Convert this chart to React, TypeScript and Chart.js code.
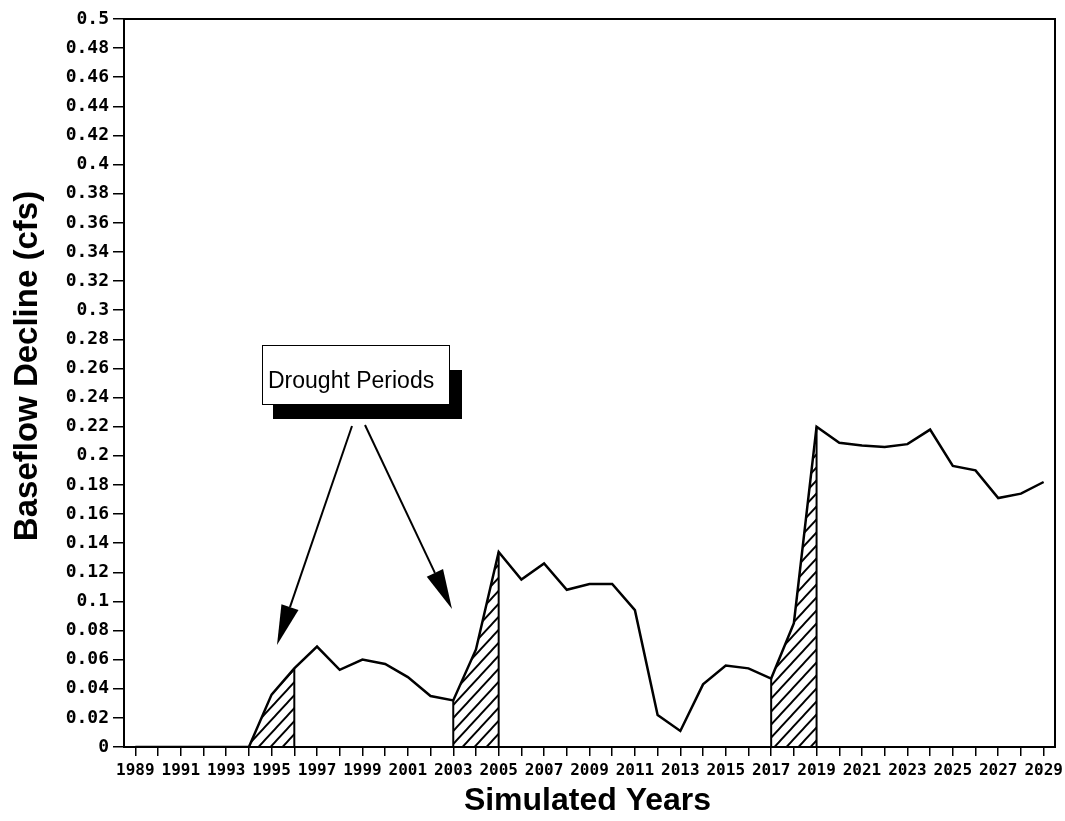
import { useEffect, useRef } from "react";
import { Chart, registerables } from "chart.js";

Chart.register(...registerables);

const years = [
  "1989", "1990", "1991", "1992", "1993", "1994", "1995", "1996", "1997", "1998",
  "1999", "2000", "2001", "2002", "2003", "2004", "2005", "2006", "2007", "2008",
  "2009", "2010", "2011", "2012", "2013", "2014", "2015", "2016", "2017", "2018",
  "2019", "2020", "2021", "2022", "2023", "2024", "2025", "2026", "2027", "2028",
  "2029",
];

const baseflowDecline = [
  0, 0, 0, 0, 0, 0, 0.036, 0.054, 0.069, 0.053,
  0.06, 0.057, 0.048, 0.035, 0.032, 0.067, 0.134, 0.115, 0.126, 0.108,
  0.112, 0.112, 0.094, 0.022, 0.011, 0.043, 0.056, 0.054, 0.047, 0.085,
  0.22, 0.209, 0.207, 0.206, 0.208, 0.218, 0.193, 0.19, 0.171, 0.174,
  0.182,
];

const droughtStarts = ["1994", "2003", "2017"];
const droughtEnds = ["1996", "2005", "2019"];

const yTickLabels = [
  "0", "0.02", "0.04", "0.06", "0.08", "0.1", "0.12", "0.14", "0.16", "0.18",
  "0.2", "0.22", "0.24", "0.26", "0.28", "0.3", "0.32", "0.34", "0.36", "0.38",
  "0.4", "0.42", "0.44", "0.46", "0.48", "0.5",
];

const xAxisTitle = "Simulated Years";
const yAxisTitle = "Baseflow Decline (cfs)";
const annotationText = "Drought Periods";

function makeHatch(): CanvasPattern | string {
  const w = 12;
  const h = 13;
  const c = document.createElement("canvas");
  c.width = w;
  c.height = h;
  const g = c.getContext("2d");
  if (!g) return "rgba(0,0,0,0.2)";
  g.fillStyle = "#ffffff";
  g.fillRect(0, 0, w, h);
  g.strokeStyle = "#000000";
  g.lineWidth = 1.9;
  g.beginPath();
  g.moveTo(-w, 2 * h);
  g.lineTo(2 * w, -h);
  g.moveTo(-2 * w, 2 * h);
  g.lineTo(w, -h);
  g.moveTo(0, 2 * h);
  g.lineTo(3 * w, -h);
  g.stroke();
  const p = g.createPattern(c, "repeat");
  return p || "rgba(0,0,0,0.2)";
}

function drawArrow(ctx: CanvasRenderingContext2D, x0: number, y0: number, x1: number, y1: number) {
  const ang = Math.atan2(y1 - y0, x1 - x0);
  const headLen = 40;
  const headHalf = 9;
  const bx = x1 - headLen * Math.cos(ang);
  const by = y1 - headLen * Math.sin(ang);
  ctx.beginPath();
  ctx.moveTo(x0, y0);
  ctx.lineTo(bx, by);
  ctx.lineWidth = 2;
  ctx.strokeStyle = "#000";
  ctx.stroke();
  ctx.beginPath();
  ctx.moveTo(x1, y1);
  ctx.lineTo(bx + headHalf * Math.sin(ang), by - headHalf * Math.cos(ang));
  ctx.lineTo(bx - headHalf * Math.sin(ang), by + headHalf * Math.cos(ang));
  ctx.closePath();
  ctx.fillStyle = "#000";
  ctx.fill();
}

const decorPlugin = {
  id: "decor",
  afterDatasetsDraw(chart: any) {
    const ctx: CanvasRenderingContext2D = chart.ctx;
    const xs = chart.scales.x;
    const ys = chart.scales.y;
    const y0 = ys.getPixelForValue(0);
    ctx.save();
    ctx.strokeStyle = "#000";
    ctx.lineWidth = 2;
    const edges = [...droughtStarts, ...droughtEnds];
    edges.forEach((yr) => {
      const i = years.indexOf(yr);
      const px = xs.getPixelForValue(i);
      const py = ys.getPixelForValue(baseflowDecline[i]);
      ctx.beginPath();
      ctx.moveTo(px, y0);
      ctx.lineTo(px, py);
      ctx.stroke();
    });
    ctx.restore();
  },
  afterDraw(chart: any) {
    const ctx: CanvasRenderingContext2D = chart.ctx;
    const a = chart.chartArea;
    ctx.save();
    // frame
    ctx.strokeStyle = "#000";
    ctx.lineWidth = 2;
    ctx.strokeRect(a.left, a.top, a.right - a.left, a.bottom - a.top);

    // annotation box with shadow
    ctx.fillStyle = "#000";
    ctx.fillRect(273, 370, 189, 49);
    ctx.fillStyle = "#fff";
    ctx.fillRect(262, 345, 188, 60);
    ctx.lineWidth = 1;
    ctx.strokeStyle = "#000";
    ctx.strokeRect(262.5, 345.5, 187, 59);
    ctx.fillStyle = "#000";
    ctx.font = "23px 'Liberation Sans', Arial, sans-serif";
    ctx.textAlign = "left";
    ctx.textBaseline = "alphabetic";
    ctx.fillText(annotationText, 268, 388);

    drawArrow(ctx, 352, 426, 277, 645);
    drawArrow(ctx, 365, 425, 452, 609);

    // axis titles
    ctx.font = "bold 32px 'Liberation Sans', Arial, sans-serif";
    ctx.textAlign = "center";
    ctx.fillText(xAxisTitle, (a.left + a.right) / 2 - 2, 810);
    ctx.translate(37, 366);
    ctx.rotate(-Math.PI / 2);
    ctx.font = "bold 33px 'Liberation Sans', Arial, sans-serif";
    ctx.fillText(yAxisTitle, 0, 0);
    ctx.restore();
  },
};

export default function App() {
  const ref = useRef<HTMLCanvasElement | null>(null);

  useEffect(() => {
    if (!ref.current) return;
    const hatch = makeHatch();
    const hatchSets = droughtStarts.map((s, k) => {
      const si = years.indexOf(s);
      const ei = years.indexOf(droughtEnds[k]);
      return {
        label: "Drought " + (k + 1),
        data: baseflowDecline.map((v, i) => (i >= si && i <= ei ? v : null)),
        borderWidth: 0,
        borderColor: "rgba(0,0,0,0)",
        backgroundColor: hatch,
        fill: "origin",
        pointRadius: 0,
        tension: 0,
        spanGaps: false,
      };
    });

    const chart = new Chart(ref.current, {
      type: "line",
      data: {
        labels: years,
        datasets: [
          {
            label: "Baseflow Decline",
            data: baseflowDecline,
            borderColor: "#000",
            borderWidth: 2.5,
            pointRadius: 0,
            tension: 0,
            fill: false,
          },
          ...hatchSets,
        ] as any,
      },
      options: {
        animation: false,
        responsive: false,
        events: [],
        layout: { padding: { top: 19, right: 10, left: 0, bottom: 0 } },
        plugins: {
          legend: { display: false },
          tooltip: { enabled: false },
          title: { display: false },
        },
        scales: {
          x: {
            type: "category",
            offset: true,
            grid: {
              display: true,
              drawOnChartArea: false,
              drawTicks: true,
              tickLength: 9,
              color: "#000",
              lineWidth: 1.5,
              offset: false,
            },
            border: { display: true, color: "#000", width: 2 },
            ticks: {
              autoSkip: false,
              maxRotation: 0,
              minRotation: 0,
              padding: 5,
              color: "#000",
              font: { family: "'DejaVu Sans Mono', monospace", size: 16, weight: "bold" },
              callback: (_v: any, i: number) => (i % 2 === 0 ? years[i] : ""),
            },
            afterFit: (s: any) => {
              s.height = 74;
              s.paddingLeft = 0;
              s.paddingRight = 0;
            },
          },
          y: {
            type: "linear",
            min: 0,
            max: 0.5,
            grid: {
              display: true,
              drawOnChartArea: false,
              drawTicks: true,
              tickLength: 11,
              color: "#000",
              lineWidth: 1.5,
            },
            border: { display: true, color: "#000", width: 2 },
            ticks: {
              stepSize: 0.02,
              padding: 4,
              color: "#000",
              font: { family: "'DejaVu Sans Mono', monospace", size: 18, weight: "bold" },
              callback: (v: any, i: number) =>
                yTickLabels[i] ?? String(Number(Number(v).toFixed(2))),
            },
            afterFit: (s: any) => {
              s.width = 124;
              s.paddingTop = 0;
              s.paddingBottom = 0;
            },
          },
        },
      },
      plugins: [decorPlugin],
    });
    return () => chart.destroy();
  }, []);

  return (
    <div style={{ position: "absolute", left: 0, top: 0, width: 1065, height: 821, background: "#fff" }}>
      <canvas ref={ref} width={1065} height={821} style={{ display: "block" }} />
    </div>
  );
}
